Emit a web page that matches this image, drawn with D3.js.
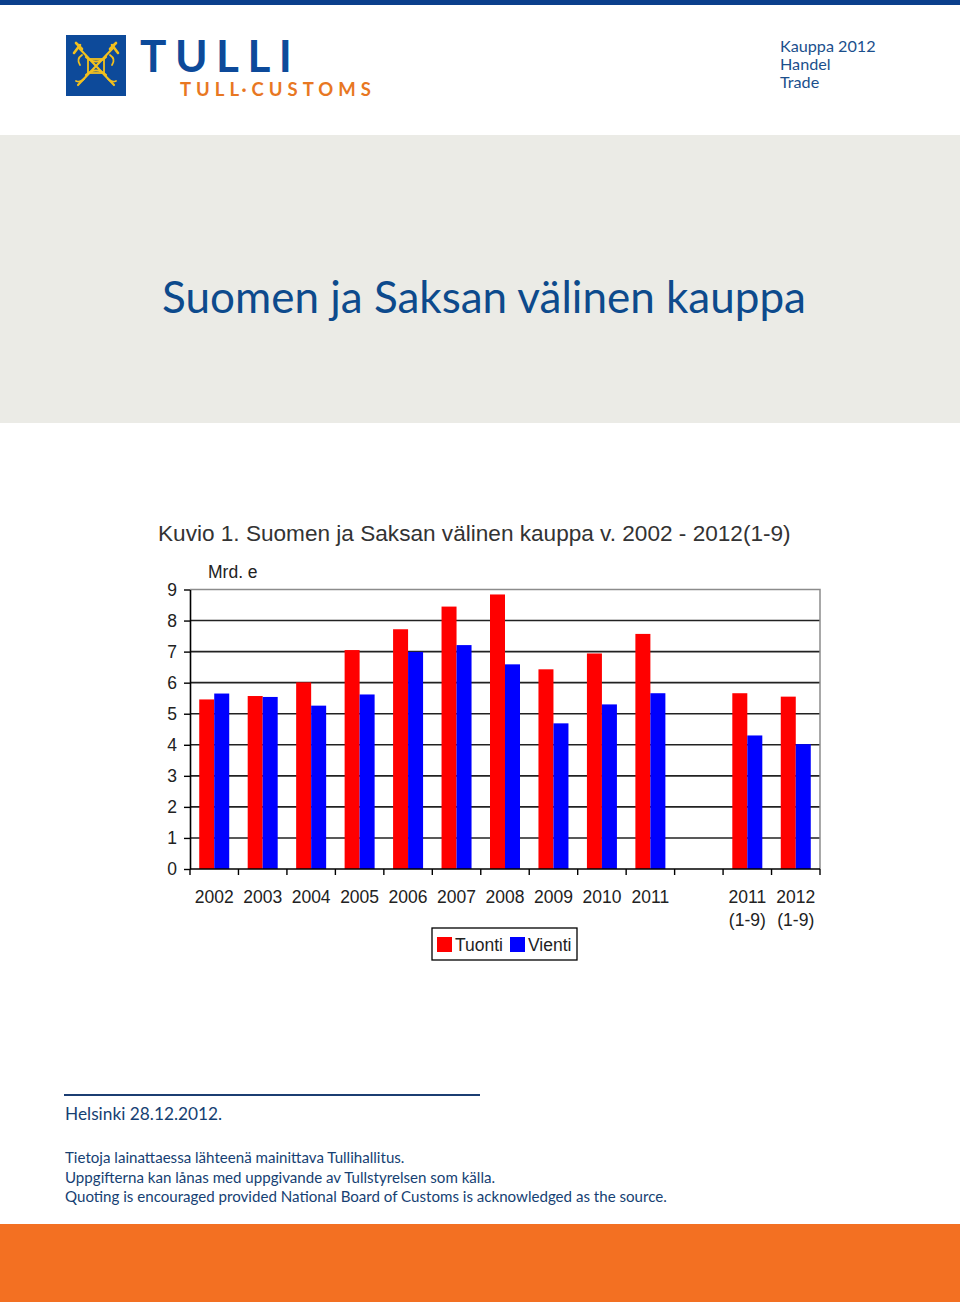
<!DOCTYPE html>
<html>
<head>
<meta charset="utf-8">
<script src="https://cdn.jsdelivr.net/npm/d3@7"></script>
<style>
  body { margin: 0; background: #fff; }
  svg { display: block; }
  .gill { font-family: Lato, "Open Sans", sans-serif; }
  .arial { font-family: "Liberation Sans", Arial, sans-serif; }
</style>
</head>
<body>
<div id="chart"></div>
<script>
// data
var categories = ["2002","2003","2004","2005","2006","2007","2008","2009","2010","2011","","2011 (1-9)","2012 (1-9)"];
var tuonti = [5.46, 5.57, 6.01, 7.05, 7.72, 8.45, 8.84, 6.43, 6.94, 7.57, null, 5.66, 5.55];
var vienti = [5.65, 5.54, 5.26, 5.62, 6.99, 7.21, 6.59, 4.69, 5.30, 5.66, null, 4.30, 4.02];
var yTicks = [0,1,2,3,4,5,6,7,8,9];
var series = ["Tuonti", "Vienti"];
var colors = ["#ff0000", "#0000ff"];

var width = 960, height = 1302;
var svg = d3.select("#chart").append("svg")
  .attr("width", width)
  .attr("height", height);

// page frame
svg.append("rect").attr("x",0).attr("y",0).attr("width",width).attr("height",5).attr("fill","#0b3f8c");
svg.append("rect").attr("x",0).attr("y",135).attr("width",width).attr("height",288).attr("fill","#ebebe6");
svg.append("rect").attr("x",0).attr("y",1224).attr("width",width).attr("height",78).attr("fill","#f37022");

// logo
var logo = svg.append("g").attr("transform","translate(66,35)");
logo.append("rect").attr("width",60).attr("height",61).attr("fill","#0d4a9a");
var em = logo.append("g").attr("stroke","#f2c01e").attr("fill","none").attr("stroke-width",2.2).attr("stroke-linecap","round");
em.append("path").attr("d","M12,50 L48,12 M12,12 L48,50");
em.append("path").attr("d","M20,22 C26,28 34,28 40,22 M20,40 C26,34 34,34 40,40");
em.append("rect").attr("x",22).attr("y",24).attr("width",16).attr("height",14).attr("stroke-width",1.8);
em.append("path").attr("d","M8,18 L14,10 M10,8 L16,14 M46,10 L52,18 M44,14 L50,8").attr("stroke-width",2.6);
em.append("path").attr("d","M16,20 q-6,4 -2,10 M44,20 q6,4 2,10 M18,44 q-4,4 -8,2 M42,44 q4,4 8,2").attr("stroke-width",1.8);

svg.append("text").attr("class","gill")
  .attr("x",140).attr("y",72)
  .attr("font-size",44).attr("font-weight",700).attr("fill","#0d4a9a")
  .attr("letter-spacing",8.5)
  .text("TULLI");
svg.append("text").attr("class","gill")
  .attr("x",180).attr("y",96)
  .attr("font-size",18.5).attr("font-weight",700).attr("fill","#e87722")
  .attr("letter-spacing",5)
  .text("TULL·CUSTOMS");

var hdr = ["Kauppa 2012","Handel","Trade"];
svg.selectAll(".hdr").data(hdr).enter().append("text")
  .attr("class","gill hdr")
  .attr("x",780).attr("y",function(d,i){ return 52 + i*18; })
  .attr("font-size",16.2).attr("fill","#1b4f8c")
  .text(function(d){ return d; });

svg.append("text").attr("class","gill")
  .attr("x",484).attr("y",313).attr("text-anchor","middle")
  .attr("font-size",44).attr("fill","#0d4a8c")
  .text("Suomen ja Saksan välinen kauppa");

// chart
svg.append("text").attr("class","arial")
  .attr("x",158).attr("y",541)
  .attr("font-size",22.6).attr("fill","#333")
  .text("Kuvio 1. Suomen ja Saksan välinen kauppa v. 2002 - 2012(1-9)");

var plotLeft = 190, plotRight = 820, plotTop = 589.5, plotBottom = 869;

var x = d3.scaleBand().domain(d3.range(categories.length)).range([plotLeft, plotRight]).paddingInner(0).paddingOuter(0);
var y = d3.scaleLinear().domain([0, 9]).range([plotBottom, plotTop]);
var barW = 15;
var gap = (x.bandwidth() - 2*barW) / 2;

var g = svg.append("g");

// gridlines
g.selectAll(".grid").data(yTicks.filter(function(d){ return d > 0 && d < 9; })).enter().append("line")
  .attr("x1",plotLeft).attr("x2",plotRight)
  .attr("y1",function(d){ return y(d); }).attr("y2",function(d){ return y(d); })
  .attr("stroke","#222").attr("stroke-width",1.6);

// plot frame top/right
g.append("path")
  .attr("d","M" + plotLeft + "," + y(9) + "H" + plotRight + "V" + plotBottom)
  .attr("fill","none").attr("stroke","#8c8c8c").attr("stroke-width",1.5);

// bars
var data = [];
categories.forEach(function(c, i){
  if (tuonti[i] != null) data.push({i:i, s:0, v:tuonti[i]});
  if (vienti[i] != null) data.push({i:i, s:1, v:vienti[i]});
});
g.selectAll(".bar").data(data).enter().append("rect")
  .attr("x", function(d){ return x(d.i) + gap + d.s*barW; })
  .attr("y", function(d){ return y(d.v); })
  .attr("width", barW)
  .attr("height", function(d){ return y(0) - y(d.v); })
  .attr("fill", function(d){ return colors[d.s]; });

// axes
var yAxis = d3.axisLeft(y).tickValues(yTicks).tickSize(6).tickSizeOuter(0);
var ya = g.append("g").attr("transform","translate(" + plotLeft + ",0)").call(yAxis);
ya.select(".domain").attr("stroke","#000").attr("stroke-width",1.6);
ya.selectAll(".tick line").attr("stroke","#000").attr("stroke-width",1.4);
ya.selectAll(".tick text").attr("class","arial").attr("font-size",17.5).attr("fill","#222").attr("x",-13);

var xa = g.append("g").attr("transform","translate(0," + plotBottom + ")");
xa.append("line").attr("x1",plotLeft).attr("x2",plotRight).attr("stroke","#000").attr("stroke-width",1.6);
var tickPos = d3.range(categories.length + 1).map(function(i){ return plotLeft + i*x.bandwidth(); });
xa.selectAll(".xt").data(tickPos).enter().append("line")
  .attr("x1",function(d){ return d; }).attr("x2",function(d){ return d; })
  .attr("y1",0).attr("y2",6).attr("stroke","#000").attr("stroke-width",1.4);
var xl = xa.selectAll(".xl").data(categories).enter().append("text")
  .attr("class","arial")
  .attr("text-anchor","middle")
  .attr("font-size",17.5).attr("fill","#222");
xl.each(function(d, i){
  var parts = d.split(" ");
  var t = d3.select(this);
  parts.forEach(function(p, k){
    t.append("tspan").attr("x", x(i) + x.bandwidth()/2).attr("y", 34 + k*23).text(p);
  });
});

svg.append("text").attr("class","arial")
  .attr("x",208).attr("y",578)
  .attr("font-size",17.5).attr("fill","#222")
  .text("Mrd. e");

// legend
var lg = svg.append("g").attr("transform","translate(432,928)");
lg.append("rect").attr("width",145).attr("height",32).attr("fill","#fff").attr("stroke","#000").attr("stroke-width",1.3);
var lx = [5, 78];
series.forEach(function(s, i){
  lg.append("rect").attr("x",lx[i]).attr("y",9).attr("width",15).attr("height",15).attr("fill",colors[i]);
  lg.append("text").attr("class","arial").attr("x",lx[i]+18).attr("y",23)
    .attr("font-size",17.5).attr("fill","#222").text(s);
});

// footer
svg.append("line").attr("x1",64).attr("x2",480).attr("y1",1095).attr("y2",1095)
  .attr("stroke","#1b3d72").attr("stroke-width",2);
svg.append("text").attr("class","gill")
  .attr("x",65).attr("y",1120).attr("font-size",17.3).attr("fill","#163f73")
  .text("Helsinki 28.12.2012.");
var notes = [
  "Tietoja lainattaessa lähteenä mainittava Tullihallitus.",
  "Uppgifterna kan lånas med uppgivande av Tullstyrelsen som källa.",
  "Quoting is encouraged provided National Board of Customs is acknowledged as the source."
];
svg.selectAll(".note").data(notes).enter().append("text")
  .attr("class","gill note")
  .attr("x",65).attr("y",function(d,i){ return 1163 + i*19.5; })
  .attr("font-size",15.1).attr("fill","#163f73")
  .text(function(d){ return d; });
</script>
</body>
</html>
